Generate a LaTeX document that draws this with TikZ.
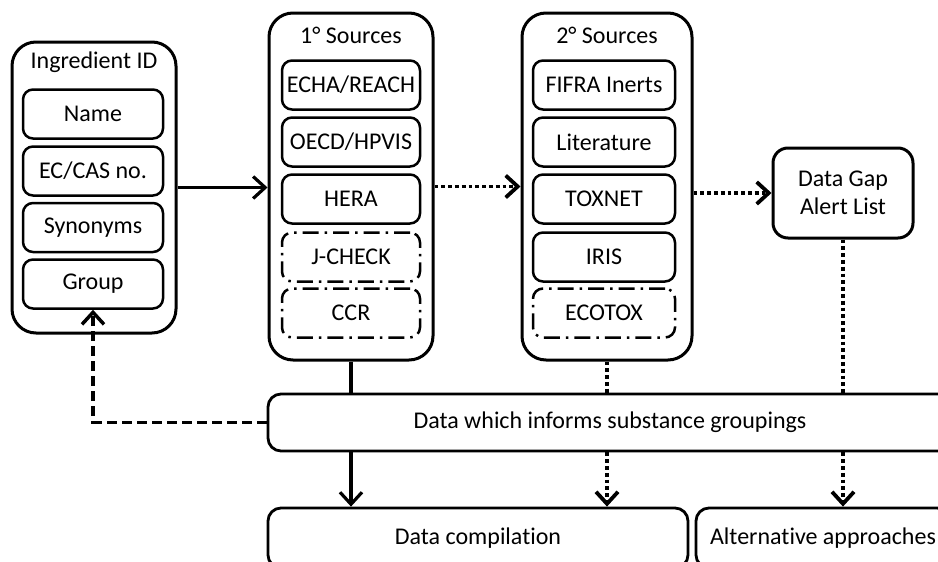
\documentclass[tikz,border=0pt]{standalone}
\usepackage{fontspec}
\setmainfont{Carlito}[Ligatures=CommonOff]
\usetikzlibrary{arrows.meta}
\begin{document}
\begin{tikzpicture}[x=1pt,y=-1pt,
  every node/.style={font=\fontsize{24}{28}\selectfont, inner sep=0pt, align=center},
  outerbox/.style={draw, line width=3pt, rounded corners=24pt},
  innerbox/.style={draw, line width=2.5pt, rounded corners=10pt, minimum height=49pt},
  dashdotbox/.style={innerbox, dash pattern=on 16pt off 6pt on 2.5pt off 6pt},
  flatbox/.style={draw, line width=2.8pt, rounded corners=13pt},
  tip/.style={-{Straight Barb[length=12pt,width=22pt]}},
  solidln/.style={line width=3.2pt},
  dotln/.style={line width=3.8pt, dash pattern=on 3.8pt off 3pt},
  dashln/.style={line width=3.5pt, dash pattern=on 10pt off 5pt}]
\useasboundingbox (0,0) rectangle (938,562);
\clip (0,0) rectangle (938,562);
% Ingredient ID
\node[outerbox, minimum width=164pt, minimum height=291pt] (ing) at (94,187.5) {};
\node (ingt) at (94,62) {Ingredient ID};
\node[innerbox, minimum width=140pt] (name) at (93,114) {Name};
\node[innerbox, minimum width=140pt] (cas) at (93,171) {EC/CAS no.};
\node[innerbox, minimum width=140pt] (syn) at (93,227.5) {Synonyms};
\node[innerbox, minimum width=140pt] (grp) at (93,284) {Group};
% 1 Sources
\node[outerbox, minimum width=164pt, minimum height=347pt] (src1) at (351,186.5) {};
\node (src1t) at (351,35) {1° Sources};
\node[innerbox, minimum width=138pt] (echa) at (351,85) {ECHA/REACH};
\node[innerbox, minimum width=138pt] (oecd) at (351,142) {OECD/HPVIS};
\node[innerbox, minimum width=138pt] (hera) at (351,199) {HERA};
\node[dashdotbox, minimum width=138pt] (jcheck) at (351,257) {J-CHECK};
\node[dashdotbox, minimum width=138pt] (ccr) at (351,313) {CCR};
% 2 Sources
\node[outerbox, minimum width=170pt, minimum height=347pt] (src2) at (607,186.5) {};
\node (src2t) at (607,35) {2° Sources};
\node[innerbox, minimum width=142pt] (fifra) at (604,85) {FIFRA Inerts};
\node[innerbox, minimum width=142pt] (lit) at (604,142) {Literature};
\node[innerbox, minimum width=142pt] (toxnet) at (604,199) {TOXNET};
\node[innerbox, minimum width=142pt] (iris) at (604,257) {IRIS};
\node[dashdotbox, minimum width=142pt] (ecotox) at (604,313) {ECOTOX};
% Data gap
\node[outerbox, rounded corners=15pt, minimum width=140pt, minimum height=90pt] (gap) at (843,193) {Data Gap\\Alert List};
% Data which informs
\node[flatbox, minimum width=684pt, minimum height=57pt] (data) at (610,422.5) {Data which informs substance groupings};
% bottom
\node[flatbox, minimum width=420pt, minimum height=60pt] (comp) at (478,538) {Data compilation};
\node[flatbox, minimum width=254pt, minimum height=60pt] (alt) at (823,538) {Alternative approaches};
% connectors
\draw[solidln, tip] (ing.east) -- (ing.east -| src1.west);
\draw[dotln, tip] (src1.east) -- (src1.east -| src2.west);
\draw[dotln, tip] (src2.east |- gap.west) -- (gap.west);
\draw[solidln] (src1.south) -- (src1.south |- data.north);
\draw[dotln] (src2.south) -- (src2.south |- data.north);
\draw[dotln] (gap.south) -- (gap.south |- data.north);
\draw[dashln, tip] (data.west) -| (grp.south);
\draw[solidln, tip] (data.south -| src1.south) -- (comp.north -| src1.south);
\draw[dotln, tip] (data.south -| src2.south) -- (comp.north -| src2.south);
\draw[dotln, tip] (data.south -| gap.south) -- (alt.north -| gap.south);
\end{tikzpicture}
\end{document}
